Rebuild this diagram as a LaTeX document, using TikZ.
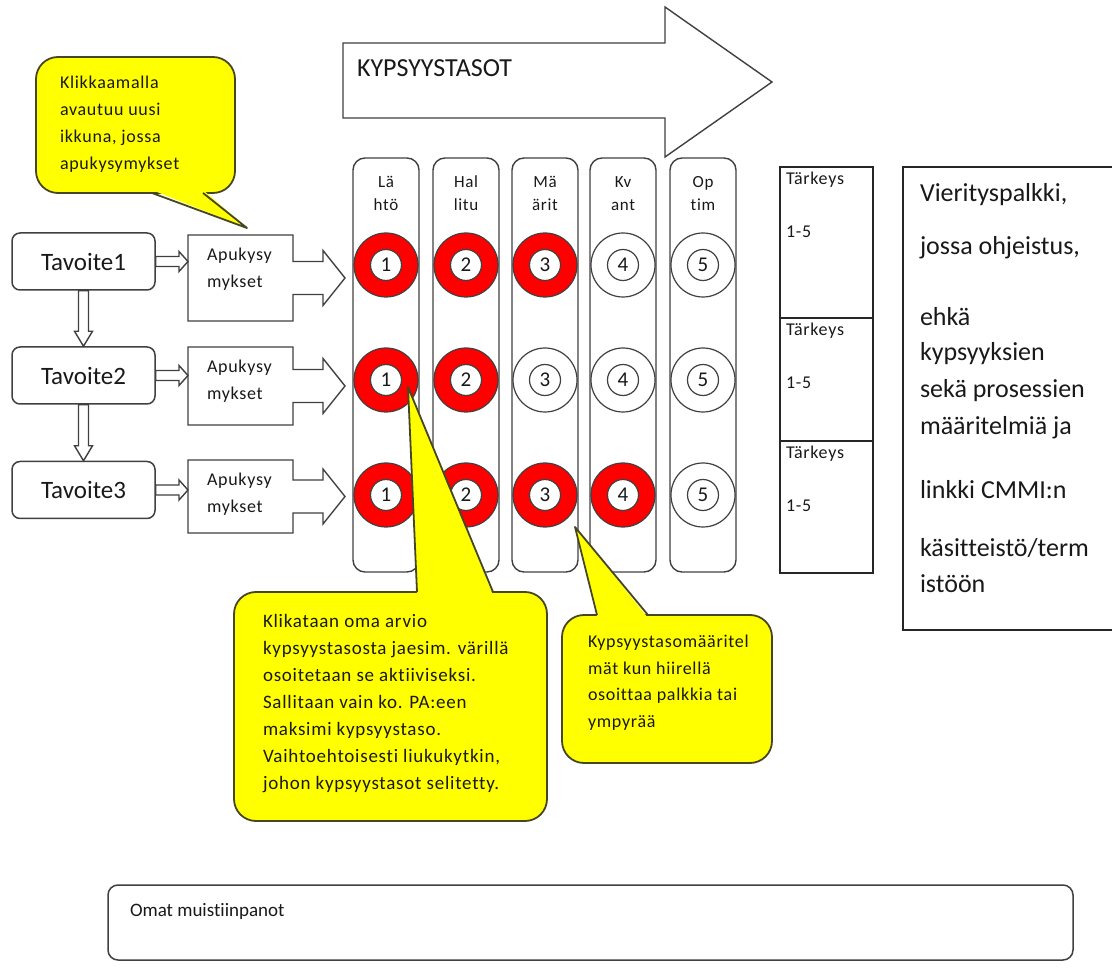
\documentclass[tikz,border=0pt]{standalone}
\usepackage{fontspec}
\setmainfont[Ligatures=NoCommon]{Carlito}
\usetikzlibrary{calc}
\definecolor{edge}{RGB}{64,64,64}
\definecolor{ink}{RGB}{25,25,25}
\definecolor{noteyellow}{RGB}{255,255,0}
\definecolor{noteedge}{RGB}{70,70,35}
\definecolor{ringred}{RGB}{255,0,0}
\newcommand\fsz[2]{\fontsize{#1}{#2}\selectfont}
\newfontfamily\spaced[LetterSpace=4,Ligatures=NoCommon]{Carlito}

% outlined block arrow between two anchors (horizontal / vertical)
\newcommand\hblock[2]{\draw[blk] let \p1=(#1), \p2=(#2) in
  (\x1,\y1+5pt) -- (\x2-9pt,\y1+5pt) -- (\x2-9pt,\y1+10pt) -- (\x2,\y1)
  -- (\x2-9pt,\y1-10pt) -- (\x2-9pt,\y1-5pt) -- (\x1,\y1-5pt) -- cycle;}
\newcommand\vblock[2]{\draw[blk] let \p1=(#1), \p2=(#2) in
  (\x1-5pt,\y1) -- (\x1-5pt,\y2+15pt) -- (\x1-9pt,\y2+15pt) -- (\x1,\y2)
  -- (\x1+9pt,\y2+15pt) -- (\x1+5pt,\y2+15pt) -- (\x1+5pt,\y1) -- cycle;}
% box with a built-in arrow on its right side
\newcommand\helpoutline[1]{\draw[blk] (#1.north west) -- (#1.north east)
  -- ($(#1.east)+(0,-16.5)$) -- ($(#1.east)+(30,-16.5)$) -- ($(#1.east)+(30,-27.5)$)
  -- ($(#1.east)+(52,0)$) -- ($(#1.east)+(30,27.5)$) -- ($(#1.east)+(30,16.5)$)
  -- ($(#1.east)+(0,16.5)$) -- (#1.south east) -- (#1.south west) -- cycle;}

\tikzset{
  plain/.style={inner sep=0pt, outer sep=0pt, text=ink, anchor=west, align=left},
  goalbox/.style={draw=edge, line width=1.5pt, rounded corners=8pt, minimum width=143pt,
    minimum height=57pt, inner sep=0pt, text=ink, font=\fsz{25}{28}},
  blk/.style={draw=edge, line width=1.4pt, fill=white, line join=miter},
  helpbody/.style={minimum width=105pt, inner sep=0pt, outer sep=0pt},
  levelcol/.style={draw=edge, line width=1.4pt, rounded corners=12pt, minimum width=66pt,
    minimum height=414pt, inner sep=0pt, outer sep=0pt},
  ring/.style={circle, draw=edge, line width=1.2pt, minimum size=64pt, inner sep=0pt},
  numdisc/.style={circle, draw=edge, line width=1.2pt, fill=white, minimum size=31pt,
    inner sep=0pt, text=ink, font=\fsz{21}{22}},
  notebody/.style={draw=noteedge, line width=1.8pt, fill=noteyellow, rounded corners=22pt, inner sep=0pt},
  notetail/.style={draw=noteedge, line width=1.8pt, line join=round},
  frame/.style={draw=black!85, line width=1.5pt, inner sep=0pt, outer sep=0pt, anchor=north west},
}

\begin{document}
\begin{tikzpicture}[x=1pt,y=-1pt]
\useasboundingbox (0,0) rectangle (1112,973);

% maturity-level banner arrow
\draw[blk] (343,43) -- (665,43) -- (665,7) -- (772,82) -- (665,157) -- (665,118) -- (343,118) -- cycle;
\node[plain, font=\fsz{26}{28}] (banner) at (357,68) {KYPSYYSTASOT};

% goals
\node[goalbox] (t1) at (83.5,261.5) {Tavoite1};
\node[goalbox] (t2) at (83.5,375.5) {Tavoite2};
\node[goalbox] (t3) at (83.5,490) {Tavoite3};
\vblock{t1.south}{t2.north}
\vblock{t2.south}{t3.north}

% helper-question boxes
\node[helpbody, minimum height=86pt] (a1) at (240.5,278) {};
\node[helpbody, minimum height=78pt] (a2) at (240.5,386) {};
\node[helpbody, minimum height=73pt] (a3) at (240.5,496.5) {};
\foreach \i in {1,2,3} {
  \helpoutline{a\i}
  \node[plain, font=\spaced\fsz{18}{27}] (a\i t) at ($(a\i.north west)+(19,34)$) {Apukysy\\mykset};
}
\hblock{t1.east}{a1.west}
\hblock{t2.east}{a2.west}
\hblock{t3.east}{a3.west}

% maturity-level columns
\foreach \c/\x/\top/\bot in {1/386/Lä/htö, 2/466/Hal/litu, 3/545/Mä/ärit, 4/623/Kv/ant, 5/703/Op/tim} {
  \node[levelcol] (c\c) at (\x,365) {};
  \node[inner sep=0pt, align=center, text=ink, font=\spaced\fsz{17}{23}] (l\c) at (\x,193.5) {\top\\\bot};
}

% level selectors: rows filled up to the chosen level
\foreach \r/\y/\k in {1/265/3, 2/380/2, 3/495/4} {
  \foreach \c/\x in {1/386, 2/466, 3/545, 4/623, 5/703} {
    \ifnum\c>\k \def\fc{white}\else\def\fc{ringred}\fi
    \node[ring, fill=\fc] (o\r\c) at (\x,\y) {};
    \node[numdisc] (n\r\c) at (o\r\c) {\c};
  }
}

% importance boxes
\node[frame, minimum width=93pt, minimum height=151pt] (k1) at (780,167) {};
\node[frame, minimum width=93pt, minimum height=123pt] (k2) at (780,318) {};
\node[frame, minimum width=93pt, minimum height=132pt] (k3) at (780,441) {};
\foreach \i in {1,2,3} {
  \node[plain, font=\spaced\fsz{18}{20}] (k\i a) at ($(k\i.north west)+(6,13)$) {Tärkeys};
  \node[plain, font=\spaced\fsz{18}{20}] (k\i b) at ($(k\i.north west)+(6,65)$) {1-5};
}

% scrolling help panel
\begin{scope}
\clip (0,0) rectangle (1112,973);
\node[frame, minimum width=230pt, minimum height=463pt] (v) at (903,167) {};
\end{scope}
\begin{scope}[every node/.style={plain, font=\fsz{26}{30}}]
\node (v1) at (920,195) {Vierityspalkki,};
\node (v2) at (920,248) {jossa ohjeistus,};
\node (v3) at (920,317) {ehkä};
\node (v4) at (920,354) {kypsyyksien};
\node (v5) at (920,391) {sekä prosessien};
\node (v6) at (920,428) {määritelmiä ja};
\node (v7) at (920,490) {linkki CMMI:n};
\node (v8) at (920,548) {käsitteistö/term};
\node (v9) at (920,584) {istöön};
\end{scope}

% callout: helper questions
\node[notebody, minimum width=199pt, minimum height=136pt] (n1) at (135.5,125) {};
\coordinate (n1tip) at ($(a1.north)+(6.5,-7)$);
\fill[noteyellow] (152,190) -- (n1tip) -- (203,190) -- cycle;
\draw[notetail] (152,193) -- (n1tip) -- (203,193);
\node[plain, font=\spaced\fsz{18}{27}] (n1t) at (60,124)
  {Klikkaamalla\\avautuu uusi\\ikkuna, jossa\\apukysymykset};

% callout: choosing a level
\node[notebody, minimum width=313pt, minimum height=229pt] (n2) at (390.5,706.5) {};
\coordinate (n2tip) at ($(o21)+(22,7)$);
\fill[noteyellow] (417.1,595) -- (n2tip) -- (493,595) -- cycle;
\draw[notetail] (417,592) -- (n2tip) -- (493,592);
\node[plain, font=\spaced\fsz{19}{27}] (n2t) at (263,703.5)
  {Klikataan oma arvio\\kypsyystasosta jaesim. värillä\\osoitetaan se aktiiviseksi.\\Sallitaan vain ko. PA:een\\maksimi kypsyystaso.\\Vaihtoehtoisesti liukukytkin,\\johon kypsyystasot selitetty.};

% callout: level definitions on hover
\node[notebody, minimum width=210pt, minimum height=148pt] (n3) at (667,689) {};
\coordinate (n3tip) at ($(c3.south east)+(-3,-45)$);
\fill[noteyellow] (597.5,618) -- (n3tip) -- (648,618) -- cycle;
\draw[notetail] (597,615) -- (n3tip) -- (648,615);
\node[plain, font=\spaced\fsz{18}{26.5}] (n3t) at (588,682.5)
  {Kypsyystasomääritel\\mät kun hiirellä\\osoittaa palkkia tai\\ympyrää};

% own notes
\node[draw=edge, line width=1.5pt, rounded corners=10pt, minimum width=965pt, minimum height=75pt,
  inner sep=0pt] (notes) at (590.5,922.5) {};
\node[plain, font=\fsz{19}{22}] (notest) at (130,911) {Omat muistiinpanot};
\end{tikzpicture}
\end{document}
